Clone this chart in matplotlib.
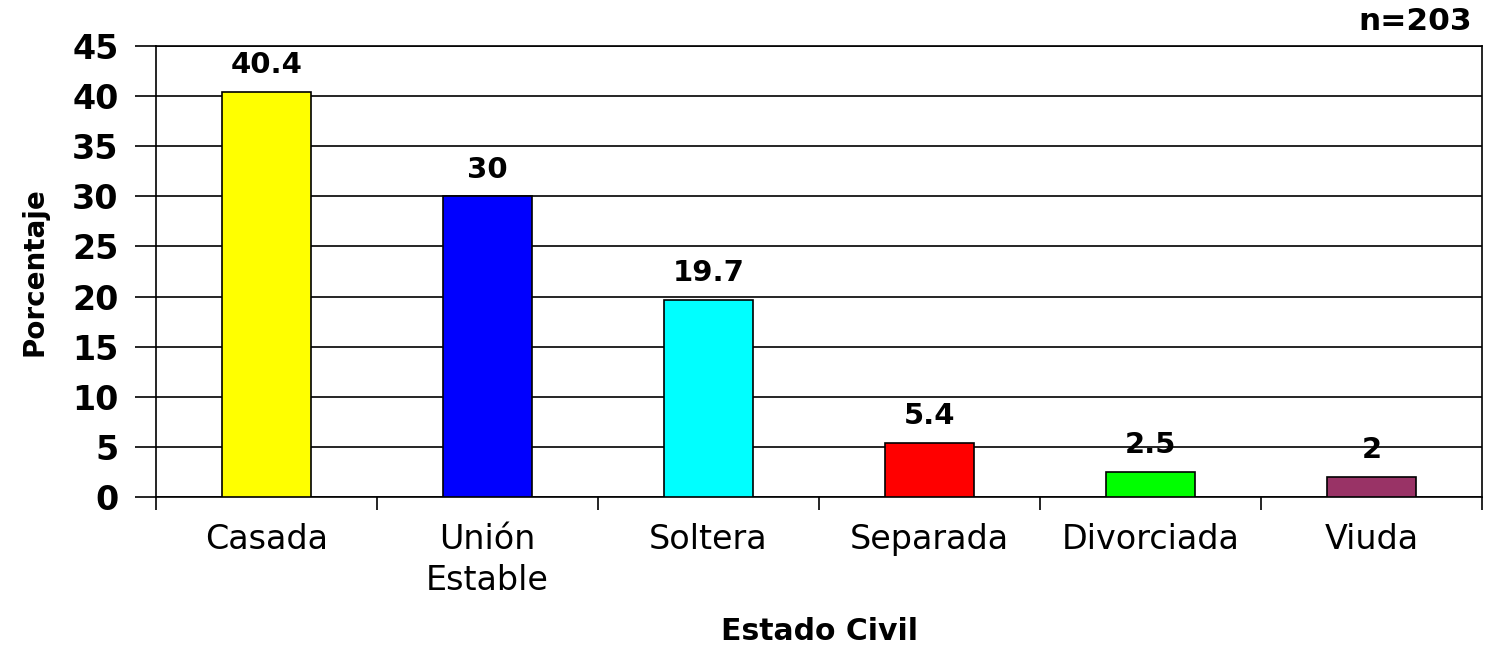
"""
Bar chart: distribucion por estado civil.
"""
import numpy as np
import matplotlib
matplotlib.use("Agg")
import matplotlib.pyplot as plt
from matplotlib.ticker import FixedLocator

# --------------------------- Data --------------------------- #
categorias = ["Casada", "Unión\nEstable", "Soltera", "Separada", "Divorciada", "Viuda"]
porcentajes = [40.4, 30, 19.7, 5.4, 2.5, 2]
colores = ["#ffff00", "#0000ff", "#00ffff", "#ff0000", "#00ff00", "#993366"]
y_ticks = [0, 5, 10, 15, 20, 25, 30, 35, 40, 45]

plt.rcParams["font.family"] = ["DejaVu Sans"]

fig = plt.figure(figsize=(14.91, 6.45), dpi=100)
ax = fig.add_axes([0.1046, 0.2295, 0.8894, 0.6992])

x = np.arange(len(categorias))
ax.bar(x, porcentajes, width=0.40, color=colores, edgecolor="black", linewidth=1.2, zorder=3)

# value labels above each bar
for xi, val in zip(x, porcentajes):
    ax.annotate(f"{val:g}", (xi, val), xytext=(0, 13.5), textcoords="offset points",
                ha="center", va="baseline", fontsize=21, fontweight="bold", zorder=4)

ax.set_xlim(-0.5, len(categorias) - 0.5)
ax.set_ylim(0, 45)
ax.set_yticks(y_ticks)
ax.set_yticklabels([str(t) for t in y_ticks], fontsize=24, fontweight="bold")
ax.yaxis.grid(True, color="black", linewidth=1.2, zorder=0)
ax.tick_params(axis="y", length=15, width=1.2, direction="out", pad=12)

ax.set_xticks(x)
ax.set_xticklabels(categorias, fontsize=24, linespacing=1.3)
ax.tick_params(axis="x", which="major", length=0, pad=19)
ax.xaxis.set_minor_locator(FixedLocator(np.arange(-0.5, len(categorias), 1.0)))
ax.tick_params(axis="x", which="minor", length=9, width=1.2, direction="out")

for side in ["left", "right", "bottom", "top"]:
    ax.spines[side].set_linewidth(1.2)
    ax.spines[side].set_color("black")

ax.set_xlabel("Estado Civil", fontsize=21.5, fontweight="bold")
ax.xaxis.set_label_coords(0.5, -0.299)
ax.xaxis.label.set_va("center")
ax.set_ylabel("Porcentaje", fontsize=20, fontweight="bold")
ax.yaxis.set_label_coords(-0.0913, 0.5)
ax.yaxis.label.set_va("center")

fig.text(0.987, 0.966, "n=203", ha="right", va="center", fontsize=22.5, fontweight="bold")

fig.savefig("out.png", dpi=100)
